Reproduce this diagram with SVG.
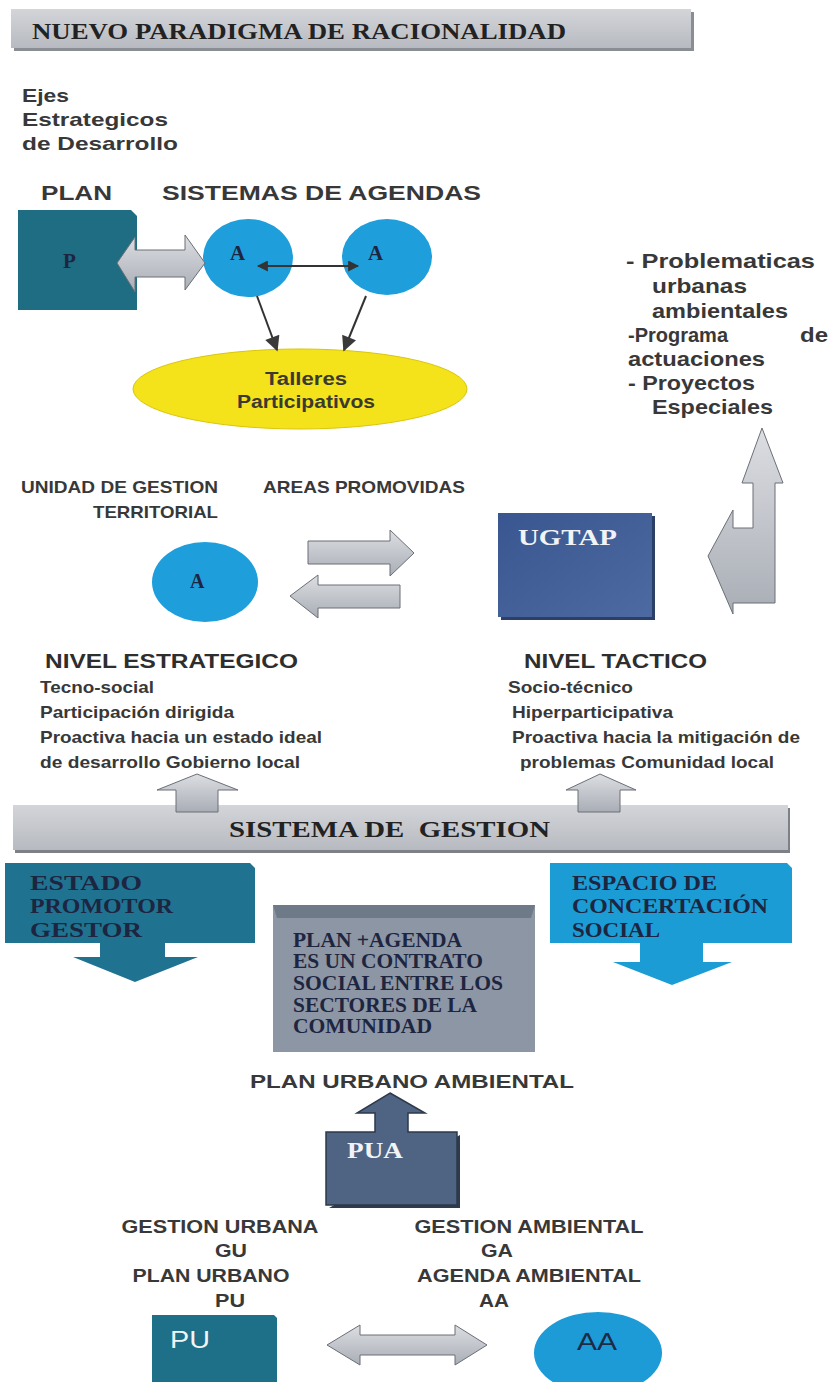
<svg xmlns="http://www.w3.org/2000/svg" width="829" height="1382" viewBox="0 0 829 1382">
<defs>
<style>
.sb{font-family:"Liberation Sans",Arial,sans-serif;font-weight:bold;fill:#383838}
.sr{font-family:"Liberation Serif","Times New Roman",serif;font-weight:bold;fill:#1d2540}
.wt{fill:#f2f3f6}
.gray{fill:url(#gg);stroke:#6a6e76;stroke-width:1}
.line{stroke:#333;stroke-width:2;fill:none}
</style>
<linearGradient id="gg" x1="0" y1="0" x2="0" y2="1">
<stop offset="0" stop-color="#dcdee2"/>
<stop offset="1" stop-color="#a9adb5"/>
</linearGradient>
<linearGradient id="bar" x1="0" y1="0" x2="0" y2="1">
<stop offset="0" stop-color="#d3d5d9"/>
<stop offset="1" stop-color="#b7bac0"/>
</linearGradient>
<linearGradient id="ug" x1="0" y1="0" x2="1" y2="1">
<stop offset="0" stop-color="#3a5690"/>
<stop offset="1" stop-color="#4d6aa2"/>
</linearGradient>
<marker id="ah" viewBox="0 0 10 10" refX="9" refY="5" markerWidth="13" markerHeight="11" orient="auto-start-reverse" markerUnits="userSpaceOnUse">
<path d="M0,0 L10,5 L0,10 Z" fill="#333"/>
</marker>
<marker id="ah2" viewBox="0 0 10 10" refX="9" refY="5" markerWidth="16" markerHeight="15" orient="auto-start-reverse" markerUnits="userSpaceOnUse">
<path d="M0,0 L10,5 L0,10 Z" fill="#3a3a3a"/>
</marker>
</defs>
<rect width="829" height="1382" fill="#ffffff"/>

<g id="title">
<rect x="14" y="12" width="680" height="39" fill="#8a8d93"/>
<rect x="11" y="9" width="680" height="39" fill="url(#bar)"/>
<text class="sr" x="32" y="39" font-size="23" textLength="534" lengthAdjust="spacingAndGlyphs" style="fill:#222">NUEVO PARADIGMA DE RACIONALIDAD</text>
</g>

<g id="ejes">
<text class="sb" x="22" y="102" font-size="19" textLength="47" lengthAdjust="spacingAndGlyphs">Ejes</text>
<text class="sb" x="22" y="126" font-size="19" textLength="146" lengthAdjust="spacingAndGlyphs">Estrategicos</text>
<text class="sb" x="22" y="150" font-size="19" textLength="156" lengthAdjust="spacingAndGlyphs">de Desarrollo</text>
</g>

<g id="headers">
<text class="sb" x="41" y="200" font-size="21" textLength="71" lengthAdjust="spacingAndGlyphs">PLAN</text>
<text class="sb" x="162" y="200" font-size="21" textLength="319" lengthAdjust="spacingAndGlyphs">SISTEMAS DE AGENDAS</text>
</g>

<g id="node-P">
<path d="M18,210 H131 L137,216 V310 H18 Z" fill="#1f6d82"/>
<text class="sr" x="63" y="268" font-size="21">P</text>
</g>

<g id="node-A1">
<ellipse cx="248" cy="258" rx="45" ry="39" fill="#1e9fdb"/>
<text class="sr" x="230" y="260" font-size="21">A</text>
</g>

<g id="node-A2">
<ellipse cx="387" cy="257" rx="45" ry="38" fill="#1e9fdb"/>
<text class="sr" x="368" y="260" font-size="21">A</text>
</g>

<g id="node-talleres">
<ellipse cx="300" cy="389" rx="167" ry="40" fill="#f4e31a" stroke="#d9c60a" stroke-width="1"/>
<text class="sb" x="306" y="385" font-size="18" text-anchor="middle" textLength="82" lengthAdjust="spacingAndGlyphs" style="fill:#3a3a30">Talleres</text>
<text class="sb" x="306" y="408" font-size="18" text-anchor="middle" textLength="138" lengthAdjust="spacingAndGlyphs" style="fill:#3a3a30">Participativos</text>
</g>

<g id="right-list">
<text class="sb" x="626" y="268" font-size="21" textLength="189" lengthAdjust="spacingAndGlyphs">- Problematicas</text>
<text class="sb" x="652" y="293" font-size="21" textLength="95" lengthAdjust="spacingAndGlyphs">urbanas</text>
<text class="sb" x="652" y="318" font-size="21" textLength="136" lengthAdjust="spacingAndGlyphs">ambientales</text>
<text class="sb" x="628" y="342" font-size="21" textLength="100" lengthAdjust="spacingAndGlyphs">-Programa</text>
<text class="sb" x="800" y="342" font-size="21" textLength="28" lengthAdjust="spacingAndGlyphs">de</text>
<text class="sb" x="628" y="366" font-size="21" textLength="137" lengthAdjust="spacingAndGlyphs">actuaciones</text>
<text class="sb" x="628" y="390" font-size="21" textLength="127" lengthAdjust="spacingAndGlyphs">- Proyectos</text>
<text class="sb" x="652" y="414" font-size="21" textLength="121" lengthAdjust="spacingAndGlyphs">Especiales</text>
</g>

<g id="labels-mid">
<text class="sb" x="21" y="493" font-size="17" textLength="197" lengthAdjust="spacingAndGlyphs">UNIDAD DE GESTION</text>
<text class="sb" x="93" y="518" font-size="17" textLength="125" lengthAdjust="spacingAndGlyphs">TERRITORIAL</text>
<text class="sb" x="263" y="493" font-size="17" textLength="202" lengthAdjust="spacingAndGlyphs">AREAS PROMOVIDAS</text>
</g>

<g id="node-A3">
<ellipse cx="205" cy="582" rx="53" ry="40" fill="#1e9fdb"/>
<text class="sr" x="190" y="588" font-size="20">A</text>
</g>

<g id="node-UGTAP">
<rect x="501" y="516" width="154" height="104" fill="#2c3f66"/>
<rect x="498" y="513" width="154" height="104" fill="url(#ug)"/>
<text class="sr wt" x="518" y="545" font-size="24" textLength="99" lengthAdjust="spacingAndGlyphs">UGTAP</text>
</g>

<g id="nivel-estrategico">
<text class="sb" x="45" y="668" font-size="21" textLength="253" lengthAdjust="spacingAndGlyphs" style="fill:#2e2e2e">NIVEL ESTRATEGICO</text>
<text class="sb" x="40" y="693" font-size="17" textLength="114" lengthAdjust="spacingAndGlyphs">Tecno-social</text>
<text class="sb" x="40" y="718" font-size="17" textLength="194" lengthAdjust="spacingAndGlyphs">Participación dirigida</text>
<text class="sb" x="40" y="743" font-size="17" textLength="282" lengthAdjust="spacingAndGlyphs">Proactiva hacia un estado ideal</text>
<text class="sb" x="40" y="768" font-size="17" textLength="260" lengthAdjust="spacingAndGlyphs">de desarrollo Gobierno local</text>
</g>

<g id="nivel-tactico">
<text class="sb" x="524" y="668" font-size="21" textLength="183" lengthAdjust="spacingAndGlyphs" style="fill:#2e2e2e">NIVEL TACTICO</text>
<text class="sb" x="508" y="693" font-size="17" textLength="125" lengthAdjust="spacingAndGlyphs">Socio-técnico</text>
<text class="sb" x="512" y="718" font-size="17" textLength="161" lengthAdjust="spacingAndGlyphs">Hiperparticipativa</text>
<text class="sb" x="512" y="743" font-size="17" textLength="288" lengthAdjust="spacingAndGlyphs">Proactiva hacia la mitigación de</text>
<text class="sb" x="520" y="768" font-size="17" textLength="254" lengthAdjust="spacingAndGlyphs">problemas Comunidad local</text>
</g>

<g id="node-sistema">
<rect x="15" y="808" width="775" height="45" fill="#7d8086"/>
<rect x="13" y="805" width="775" height="45" fill="url(#bar)"/>
<text class="sr" x="229" y="837" font-size="24" textLength="321" lengthAdjust="spacingAndGlyphs" style="fill:#222" xml:space="preserve">SISTEMA DE  GESTION</text>
</g>

<g id="node-estado">
<path d="M5,863 H250 L255,868 V943 H165 V957 H198 L135,982 L73,957 H100 V943 H5 Z" fill="#1f7391"/>
<text class="sr" x="30" y="890" font-size="22" textLength="112" lengthAdjust="spacingAndGlyphs">ESTADO</text>
<text class="sr" x="30" y="913" font-size="22" textLength="143" lengthAdjust="spacingAndGlyphs">PROMOTOR</text>
<text class="sr" x="30" y="937" font-size="22" textLength="112" lengthAdjust="spacingAndGlyphs">GESTOR</text>
</g>

<g id="node-espacio">
<path d="M550,863 H787 L792,868 V943 H703 V962 H732 L672,985 L613,962 H640 V943 H550 Z" fill="#1b9cd4"/>
<text class="sr" x="572" y="890" font-size="22" textLength="145" lengthAdjust="spacingAndGlyphs">ESPACIO DE</text>
<text class="sr" x="572" y="913" font-size="22" textLength="196" lengthAdjust="spacingAndGlyphs">CONCERTACIÓN</text>
<text class="sr" x="572" y="937" font-size="22" textLength="88" lengthAdjust="spacingAndGlyphs">SOCIAL</text>
</g>

<g id="node-contrato">
<rect x="273" y="905" width="262" height="147" fill="#8c96a4"/>
<path d="M273,905 H535 L531,918 H277 Z" fill="#6f7a89"/>
<text class="sr" x="293" y="947" font-size="20" textLength="169" lengthAdjust="spacingAndGlyphs">PLAN +AGENDA</text>
<text class="sr" x="293" y="968" font-size="20" textLength="190" lengthAdjust="spacingAndGlyphs">ES UN CONTRATO</text>
<text class="sr" x="293" y="990" font-size="20" textLength="210" lengthAdjust="spacingAndGlyphs">SOCIAL ENTRE LOS</text>
<text class="sr" x="293" y="1012" font-size="20" textLength="184" lengthAdjust="spacingAndGlyphs">SECTORES DE LA</text>
<text class="sr" x="293" y="1033" font-size="20" textLength="139" lengthAdjust="spacingAndGlyphs">COMUNIDAD</text>
</g>

<g id="label-pua">
<text class="sb" x="250" y="1088" font-size="19" textLength="324" lengthAdjust="spacingAndGlyphs">PLAN URBANO AMBIENTAL</text>
</g>

<g id="node-PUA">
<path d="M329,1208 H460 V1135 Z" fill="#2f3a4c"/>
<path d="M390,1093 L425,1113 H408 V1132 H457 V1205 H326 V1132 H375 V1113 H357 Z" fill="#4f6483" stroke="#2e394c" stroke-width="1.5"/>
<text class="sr wt" x="347" y="1158" font-size="23" textLength="56" lengthAdjust="spacingAndGlyphs">PUA</text>
</g>

<g id="labels-bottom">
<text class="sb" x="220" y="1233" font-size="18" text-anchor="middle" textLength="197" lengthAdjust="spacingAndGlyphs">GESTION URBANA</text>
<text class="sb" x="231" y="1257" font-size="18" text-anchor="middle" textLength="32" lengthAdjust="spacingAndGlyphs">GU</text>
<text class="sb" x="211" y="1282" font-size="18" text-anchor="middle" textLength="157" lengthAdjust="spacingAndGlyphs">PLAN URBANO</text>
<text class="sb" x="230" y="1307" font-size="18" text-anchor="middle" textLength="30" lengthAdjust="spacingAndGlyphs">PU</text>
<text class="sb" x="529" y="1233" font-size="18" text-anchor="middle" textLength="229" lengthAdjust="spacingAndGlyphs">GESTION AMBIENTAL</text>
<text class="sb" x="497" y="1257" font-size="18" text-anchor="middle" textLength="32" lengthAdjust="spacingAndGlyphs">GA</text>
<text class="sb" x="529" y="1282" font-size="18" text-anchor="middle" textLength="224" lengthAdjust="spacingAndGlyphs">AGENDA AMBIENTAL</text>
<text class="sb" x="494" y="1307" font-size="18" text-anchor="middle" textLength="30" lengthAdjust="spacingAndGlyphs">AA</text>
</g>

<g id="node-PU">
<path d="M152,1315 H274 L277,1318 V1382 H152 Z" fill="#1e6f88"/>
<text x="170" y="1348" font-size="24" textLength="40" lengthAdjust="spacingAndGlyphs" style="font-family:'Liberation Sans',Arial,sans-serif;fill:#f2f4f6">PU</text>
</g>

<g id="node-AA">
<ellipse cx="598" cy="1353" rx="64" ry="41" fill="#1c9bd7"/>
<text x="577" y="1350" font-size="24" textLength="40" lengthAdjust="spacingAndGlyphs" style="font-family:'Liberation Sans',Arial,sans-serif;fill:#1d2a48">AA</text>
</g>

<g id="connectors">
<path class="gray" d="M117,263 L135,237 V250 H185 V235 L205,263 L185,290 V277 H135 V292 Z"/>
<line class="line" x1="258" y1="266" x2="358" y2="266" stroke-width="1.5" marker-start="url(#ah)" marker-end="url(#ah)"/>
<line class="line" x1="257" y1="296" x2="277" y2="350" marker-end="url(#ah2)"/>
<line class="line" x1="366" y1="296" x2="344" y2="350" marker-end="url(#ah2)"/>
<path class="gray" d="M308,541 H390 V530 L414,553 L390,576 V564 H308 Z"/>
<path class="gray" d="M290,596 L318,575 V585 H400 V608 H318 V618 Z"/>
<path class="gray" d="M762,428 L783,483 H775 V603 H733 V614 L708,556 L733,510 V528 H753 V483 H742 Z"/>
<path class="gray" d="M197,774 L238,790 H218 V812 H176 V790 H157 Z"/>
<path class="gray" d="M600,774 L636,790 H620 V812 H578 V790 H566 Z"/>
<path class="gray" d="M327,1345 L360,1325 V1335 H455 V1325 L487,1345 L455,1365 V1355 H360 V1365 Z"/>
</g>
</svg>
